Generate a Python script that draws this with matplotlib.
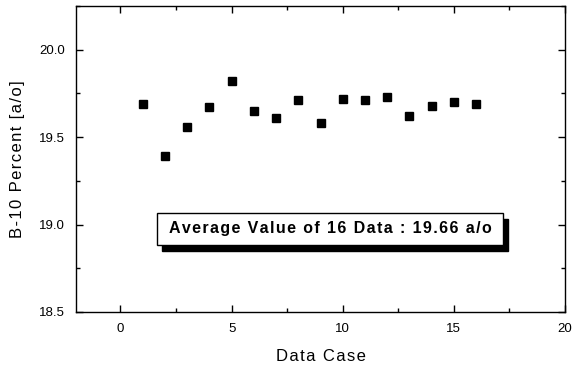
import matplotlib.pyplot as plt
from matplotlib.patches import Rectangle
from matplotlib.ticker import MultipleLocator

plt.rcParams['font.family'] = ['Liberation Sans', 'DejaVu Sans']

# B-10 enrichment measured for each data case
case = [1, 2, 3, 4, 5, 6, 7, 8, 9, 10, 11, 12, 13, 14, 15, 16]
b10 = [19.69, 19.39, 19.56, 19.67, 19.82, 19.65, 19.61, 19.71,
       19.58, 19.72, 19.71, 19.73, 19.62, 19.68, 19.70, 19.69]
avg_text = "Average Value of 16 Data : 19.66 a/o"


def spread(s):
    # widen the letter spacing a little with hair spaces
    return '\u200a'.join(s)


fig = plt.figure(figsize=(5.87, 3.69), dpi=100)
ax = fig.add_axes([0.1295, 0.1545, 0.833, 0.8292])

ax.plot(case, b10, 's', color='black', markersize=5.2, linestyle='none')

ax.set_xlim(-2, 20)
ax.set_ylim(18.5, 20.25)
ax.xaxis.set_major_locator(MultipleLocator(5))
ax.xaxis.set_minor_locator(MultipleLocator(2.5))
ax.yaxis.set_major_locator(MultipleLocator(0.5))
ax.yaxis.set_minor_locator(MultipleLocator(0.25))
ax.yaxis.set_major_formatter(plt.FormatStrFormatter('%.1f'))
ax.tick_params(which='both', direction='in', top=True, right=True, width=1,
               labelsize=9.5, pad=8)
ax.tick_params(which='major', length=5)
ax.tick_params(which='minor', length=3)
for s in ax.spines.values():
    s.set_linewidth(1)

ax.set_xlabel(spread("Data Case"), fontsize=12, labelpad=10)
ax.set_ylabel(spread("B-10 Percent [a/o]"), fontsize=12, labelpad=10)

# text box with a drop shadow
bx, by, bw, bh = 0.1656, 0.219, 0.7075, 0.1045
ax.add_patch(Rectangle((bx + 0.011, by - 0.019), bw, bh, transform=ax.transAxes,
                       facecolor='black', edgecolor='black', zorder=3))
ax.add_patch(Rectangle((bx, by), bw, bh, transform=ax.transAxes,
                       facecolor='white', edgecolor='black', linewidth=1, zorder=4))
ax.text(bx + bw / 2, by + bh / 2, spread(avg_text), transform=ax.transAxes,
        ha='center', va='center', fontsize=11.5, fontweight='bold', zorder=5)

fig.savefig('out.png', dpi=100)
